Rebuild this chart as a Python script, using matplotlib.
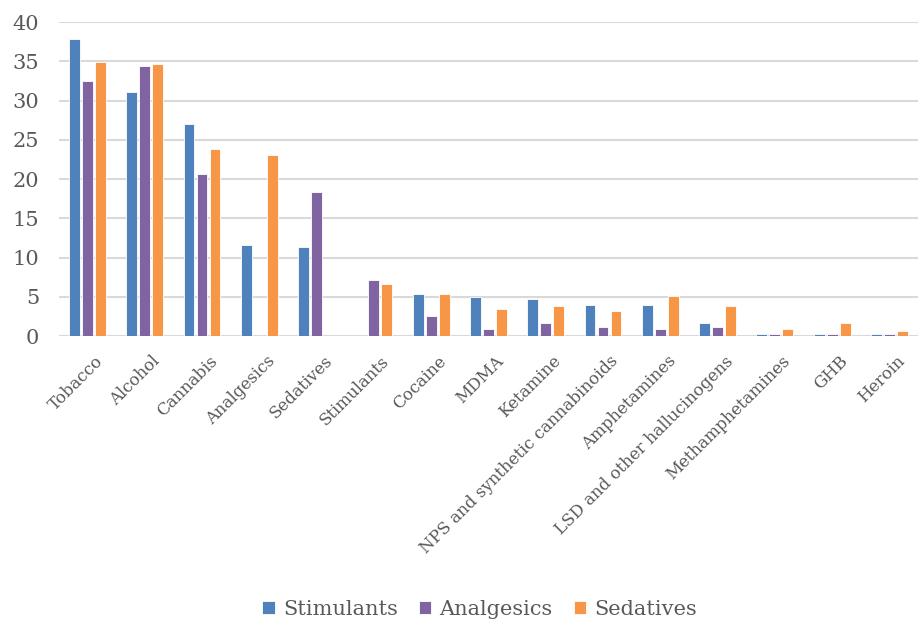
import numpy as np
import matplotlib
matplotlib.use("Agg")
import matplotlib.pyplot as plt
import matplotlib.transforms as mtransforms

categories = ["Tobacco", "Alcohol", "Cannabis", "Analgesics", "Sedatives", "Stimulants",
              "Cocaine", "MDMA", "Ketamine", "NPS and synthetic cannabinoids",
              "Amphetamines", "LSD and other hallucinogens", "Methamphetamines",
              "GHB", "Heroin"]
stimulants = [37.8, 31.1, 27.0, 11.6, 11.3, 0, 5.3, 5.0, 4.7, 4.0, 4.0, 1.6, 0.3, 0.3, 0.3]
analgesics = [32.5, 34.4, 20.6, 0, 18.3, 7.2, 2.6, 0.9, 1.6, 1.2, 0.9, 1.2, 0.3, 0.3, 0.3]
sedatives = [34.9, 34.6, 23.8, 23.1, 0, 6.6, 5.4, 3.5, 3.8, 3.2, 5.1, 3.8, 0.9, 1.6, 0.6]

series = [("Stimulants", stimulants, "#4F81BD"),
          ("Analgesics", analgesics, "#8064A2"),
          ("Sedatives", sedatives, "#F79646")]

plt.rcParams['font.family'] = ['DejaVu Serif']
txt = "#595959"

fig = plt.figure(figsize=(9.19, 6.24), dpi=100)
ax = fig.add_axes([0.064, 0.4615, 0.935, 0.5032])

x = np.arange(len(categories))
step = 0.227
for i, (name, vals, col) in enumerate(series):
    ax.bar(x + (i - 1) * step, vals, width=0.19, color=col, edgecolor="white",
           linewidth=0.6, label=name, zorder=3)

ax.set_xlim(-0.5, len(categories) - 0.5)
ax.set_ylim(0, 40)
ax.set_yticks(range(0, 41, 5))
ax.yaxis.grid(True, color="#D9D9D9", linewidth=1.5, zorder=0)
ax.set_axisbelow(True)
for s in ax.spines.values():
    s.set_visible(False)
ax.tick_params(axis="both", length=0, colors=txt)
ax.tick_params(axis="y", labelsize=15, pad=14)
ax.set_xticks(x)
ax.set_xticklabels(categories, rotation=45, ha="right", rotation_mode="anchor",
                   fontsize=12, color=txt)
ax.tick_params(axis="x", pad=12)
shift = mtransforms.ScaledTranslation(0.07, 0, fig.dpi_scale_trans)
for lab in ax.get_xticklabels():
    lab.set_transform(lab.get_transform() + shift)

leg = fig.legend(loc="lower center", bbox_to_anchor=(0.522, -0.022), ncol=3,
                 frameon=False, fontsize=15, handlelength=0.6, handleheight=0.6,
                 handletextpad=0.4, columnspacing=1.0)
for t in leg.get_texts():
    t.set_color(txt)

fig.savefig("out.png", dpi=100)
